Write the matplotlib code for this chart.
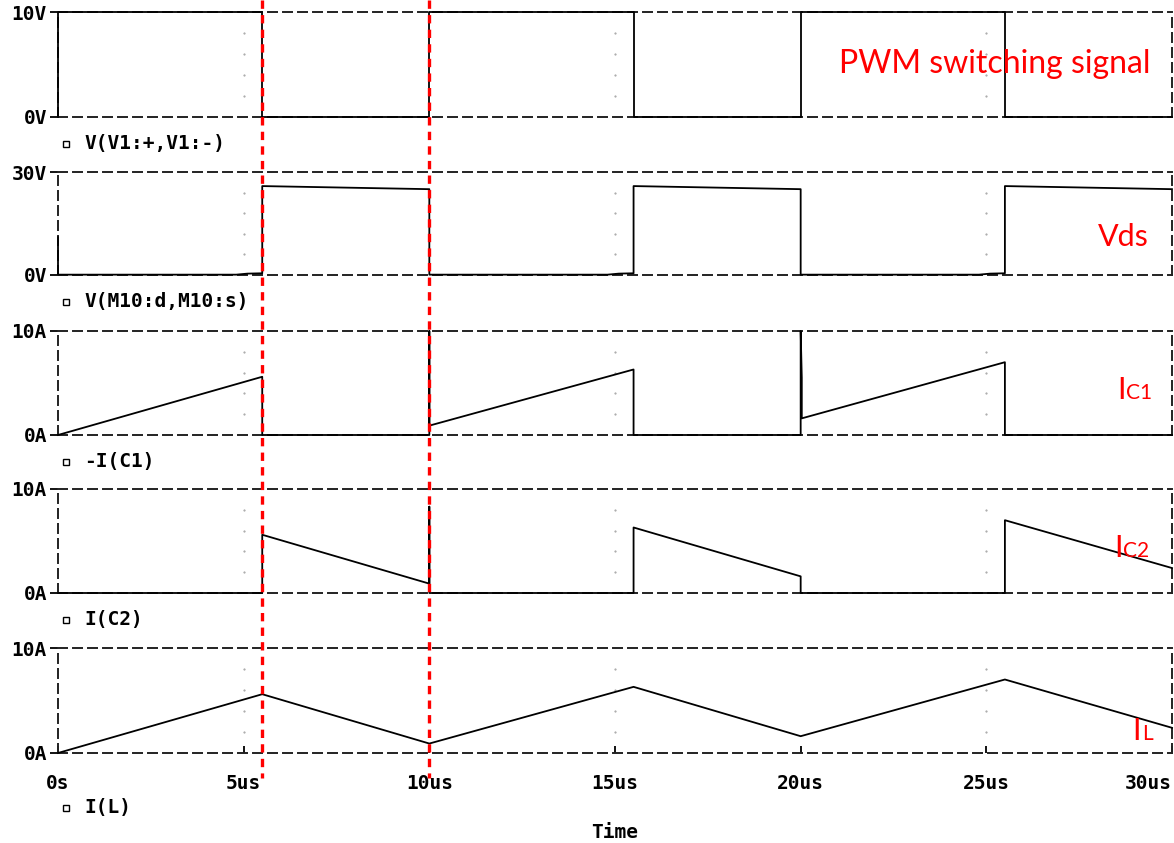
import matplotlib
matplotlib.use("Agg")
import matplotlib.pyplot as plt
from matplotlib.lines import Line2D
from matplotlib import transforms

plt.rcParams['lines.scale_dashes'] = False

# waveforms (time in us)
t_pwm = [0, 0, 5.5, 5.5, 10, 10, 15.5, 15.5, 20, 20, 25.5, 25.5, 30]
v_pwm = [0, 10, 10, 0, 0, 10, 10, 0, 0, 10, 10, 0, 0]

t_vds = [0, 0, 4.8, 5.1, 5.5, 5.5, 10, 10, 14.8, 15.1, 15.5, 15.5, 20, 20, 24.8, 25.1, 25.5, 25.5, 30]
v_vds = [11, 0.1, 0.1, 0.4, 0.5, 25.9, 25.0, 0.1, 0.1, 0.4, 0.5, 25.9, 25.0, 0.1, 0.1, 0.4, 0.5, 25.9, 25.0]

t_ic1 = [0, 5.5, 5.5, 10, 10, 10, 15.5, 15.5, 20, 20, 20.03, 20.03, 25.5, 25.5, 30]
i_ic1 = [0, 5.6, 0, 0, 10, 0.9, 6.3, 0, 0, 10, 5.5, 1.6, 7.0, 0, 0]

t_ic2 = [0, 5.5, 5.5, 10, 10, 10, 15.5, 15.5, 20, 20, 25.5, 25.5, 30]
i_ic2 = [0, 0, 5.6, 0.9, 8.3, 0, 0, 6.3, 1.6, 0, 0, 7.0, 2.4]

t_il = [0, 5.5, 10, 15.5, 20, 25.5, 30]
i_il = [0, 5.6, 0.9, 6.3, 1.6, 7.0, 2.4]

time_ticks = [0, 5, 10, 15, 20, 25, 30]
time_labels = ['0s', '5us', '10us', '15us', '20us', '25us', '30us']

traces = [(t_pwm, v_pwm, 10, 'V', 'V(V1:+,V1:-)'),
          (t_vds, v_vds, 30, 'V', 'V(M10:d,M10:s)'),
          (t_ic1, i_ic1, 10, 'A', '-I(C1)'),
          (t_ic2, i_ic2, 10, 'A', 'I(C2)'),
          (t_il, i_il, 10, 'A', 'I(L)')]

W, H = 1174, 843
def fx(x):
    return x / W
def fy(y):
    return 1 - y / H

# panel top/bottom in pixels
panel_px = [(12, 117), (172, 275), (331, 435), (489, 593), (648, 753)]
label_y = [144, 302, 462, 620, 808]

mono = dict(family='DejaVu Sans Mono', weight='bold', size=14)
dash = (0, (6.5, 4.3))

fig = plt.figure(figsize=(11.74, 8.43), dpi=100)
axes = []
for k, (tr, (top, bot)) in enumerate(zip(traces, panel_px)):
    t, v, ymax, unit, name = tr
    ax = fig.add_axes([fx(58), fy(bot), fx(1172) - fx(58), fy(top) - fy(bot)])
    ax.set_xlim(0, 30)
    ax.set_ylim(0, ymax)
    for s in ax.spines.values():
        s.set_linestyle(dash)
        s.set_linewidth(1.4)
        s.set_color('#222222')
    ax.plot(t, v, color='black', lw=1.3, clip_on=False, zorder=3)
    # faint dotted grid points
    for gx in [5, 15, 25]:
        ax.plot([gx] * 4, [ymax * f for f in (0.2, 0.4, 0.6, 0.8)], ls='none',
                marker='.', ms=1.0, color='#999999')
    ax.set_yticks([0, ymax])
    ax.set_yticklabels(['0' + unit, '%d' % ymax + unit], fontdict=mono)
    ax.tick_params(axis='y', direction='out', length=6, width=1.3, pad=2)
    if k < 4:
        ax.set_xticks([])
    else:
        ax.set_xticks(time_ticks)
        ax.set_xticklabels(time_labels, fontdict=mono)
        ax.tick_params(axis='x', direction='in', length=5, width=1.3, pad=15)
        ax.get_xticklabels()[-1].set_horizontalalignment('right')
    fig.add_artist(Line2D([fx(66)], [fy(label_y[k])], marker='s', ms=5, mfc='white',
                          mec='black', mew=1, transform=fig.transFigure))
    fig.text(fx(84), fy(label_y[k]), name, ha='left', va='center', **mono)
    axes.append(ax)

fig.text(fx(615), fy(833), 'Time', ha='center', va='center', **mono)

# red markers at switching instants
trans = transforms.blended_transform_factory(axes[-1].transData, fig.transFigure)
for tx in [5.5, 10]:
    fig.add_artist(Line2D([tx, tx], [1.0, fy(778)], color='red', lw=2.4,
                          ls=(0, (6, 4.5)), transform=trans, zorder=5))

red = dict(color='red', family='Lato')
fig.text(fx(995), fy(64), 'PWM switching signal', ha='center', va='center', size=23, **red)
fig.text(fx(1123), fy(237), 'Vds', ha='center', va='center', size=22, **red)
for xi, xs, yb, sub in [(1117, 1126, 399, 'C1'), (1114, 1123, 557, 'C2'), (1132, 1142, 740, 'L')]:
    fig.text(fx(xi), fy(yb), 'I', ha='left', va='baseline', size=22, **red)
    fig.text(fx(xs), fy(yb), sub, ha='left', va='baseline', size=15, **red)

fig.savefig('out.png', dpi=100)
